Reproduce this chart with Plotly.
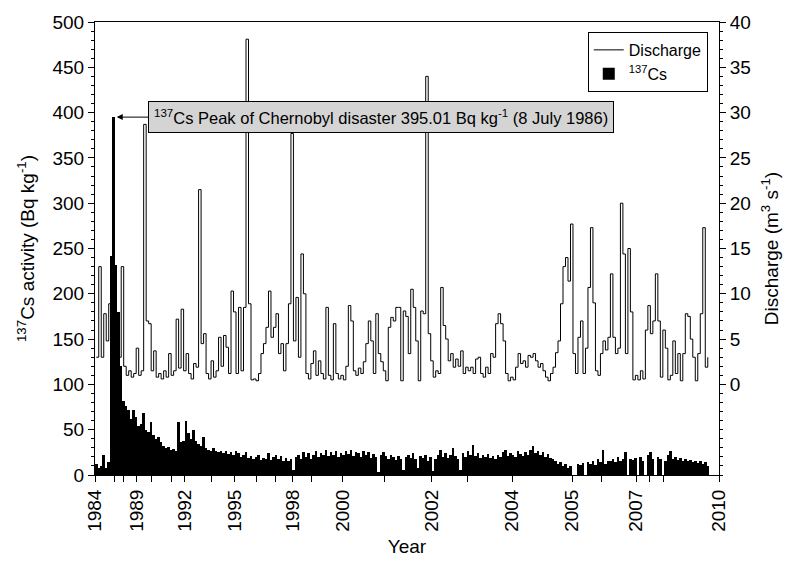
import plotly.graph_objects as go

# ---- data (one sample per time step) ----
cs_activity = [
    12, 8, 10, 22, 8, 14, 242, 395.01, 232, 180,
    120, 82, 76, 72, 62, 72, 64, 54, 56, 68,
    50, 48, 58, 44, 40, 42, 36, 32, 30, 31,
    28, 29, 27, 58, 36, 38, 60, 46, 40, 50,
    38, 34, 32, 42, 30, 28, 26, 30, 27, 25,
    26, 24, 27, 23, 25, 22, 26, 24, 20, 22,
    25, 19, 21, 18, 20, 22, 17, 19, 18, 24,
    17, 20, 22, 18, 21, 16, 19, 15, 18, 6,
    20, 22, 18, 25, 20, 24, 18, 22, 26, 20,
    24, 22, 28, 21, 25, 22, 27, 20, 24, 22,
    26, 23, 28, 21, 25, 24, 20, 26, 22, 25,
    19, 23, 20, 3, 22, 25, 21, 18, 22, 20,
    17, 21, 18, 5, 20, 22, 19, 24, 18, 8,
    21, 19, 22, 16, 20, 4, 18, 22, 28, 20,
    24, 19, 22, 30, 21, 18, 6, 24, 20, 26,
    22, 33, 21, 24, 19, 22, 20, 23, 19, 21,
    18, 22, 20, 25, 28, 21, 24, 22, 20, 26,
    23, 21, 25, 22, 28, 32, 24, 26, 22, 25,
    20, 23, 19, 18, 15, 12, 14, 10, 12, 8,
    10, 0, 0, 12, 11, 13, 0, 14, 12, 16,
    11, 18, 14, 28, 12, 16, 15, 18, 14, 20,
    16, 18, 25, 0, 18, 17, 19, 0, 20, 16,
    0, 22, 25, 18, 0, 20, 18, 0, 16, 22,
    26, 18, 20, 17, 19, 16, 18, 15, 17, 14,
    16, 13, 15, 12, 14, 10,
]

discharge = [
    3, 13, 3, 7.8, 4.8, 8.9, 10, 6, 4, 3,
    13, 2, 1, 1.5, 0.8, 1.2, 4, 1, 1.5, 28.7,
    7, 6.7, 1.5, 3.7, 0.8, 1.2, 0.6, 1.5, 0.8, 3.4,
    1, 1.5, 7.2, 1.8, 8.3, 1.5, 3.4, 1.2, 0.6, 2.3,
    1.9, 21.5, 4.5, 5.6, 1.2, 0.6, 2.6, 0.8, 1.5, 5.2,
    2, 5.4, 4.1, 1.2, 10.3, 8, 1.2, 8.5, 1.5, 8.5,
    38.1, 8.9, 0.5, 0.6, 0.4, 1.2, 3.4, 4.5, 6.3, 10.3,
    5.2, 6.3, 7.8, 3.4, 4.5, 1.5, 4.5, 8.9, 27.7, 4.8,
    9.6, 3, 14.4, 10, 1.2, 0.6, 2.3, 3.7, 1, 2.6,
    1.2, 0.6, 8.5, 1, 0.5, 6.7, 1.2, 0.6, 1, 0.5,
    2, 8.7, 7, 1.5, 1, 1.8, 1.2, 2.5, 4.5, 7,
    4.8, 1.2, 7.8, 3.4, 2.5, 1.5, 0.4, 6.3, 7.4, 7,
    8.5, 8.5, 0.4, 8.1, 7.5, 3.4, 10.5, 8.5, 4.8, 0.4,
    8.1, 7.8, 34, 5.6, 2.6, 0.8, 1.5, 1.2, 10.7, 6.5,
    5, 2.6, 3.4, 1.9, 2.8, 2, 3.7, 1.2, 1.9, 1.5,
    1.9, 1.2, 2.8, 3, 1.2, 0.8, 1.9, 1.2, 3.4, 3,
    6.7, 7.8, 6.7, 4.8, 1.2, 0.4, 0.8, 0.5, 1.9, 3.4,
    2.3, 2.6, 1.9, 3.2, 3, 3.4, 2.6, 1.9, 2.3, 1.5,
    0.8, 0.4, 1.2, 1.9, 3.5, 4.8, 8.9, 13, 14, 11.4,
    17.7, 3.4, 1.2, 5.2, 7, 1.2, 4, 10.7, 17.3, 9,
    1.5, 1, 3.4, 4.8, 3.8, 5.2, 12.2, 5.2, 3.4, 4,
    20, 14.4, 3.4, 15, 8, 0.5, 1, 0.5, 1.5, 0.6,
    6, 8.7, 5.6, 7, 12.2, 7, 0.8, 6, 4, 0.5,
    1, 4.8, 1.2, 3.4, 0.4, 3.4, 7.8, 7.5, 5, 3,
    0.4, 3.4, 7.8, 17.3, 1.9, 3,
]

sample_index = list(range(len(cs_activity)))

# x-axis labelled tick positions (sample index) and their labels
year_tick_pos = [-0.5, 16.3, 35.5, 55.5, 78.7, 98.7, 134.3, 166.7, 190.7,
                 216.3, 249.5]
year_tick_text = ["1984", "1989", "1992", "1995", "1998", "2000", "2002",
                  "2004", "2005", "2007", "2010"]
# unlabelled intermediate ticks on the x axis
extra_tick_pos = [7.5, 11.1, 22.3, 30.3, 46.3, 64.3, 71.9, 86.3, 115.5,
                  148.7, 202.3, 221.5, 227.1]

left_ticks = [0, 50, 100, 150, 200, 250, 300, 350, 400, 450, 500]
right_ticks = [0, 5, 10, 15, 20, 25, 30, 35, 40]

peak_value = 395.01
peak_index = 7

FONT = "Arial, Liberation Sans, sans-serif"

fig = go.Figure()
fig.add_trace(go.Bar(
    x=sample_index, y=cs_activity, name="<sup>137</sup>Cs",
    marker=dict(color="black", line=dict(width=0)),
    width=1.0,
))
fig.add_trace(go.Scatter(
    x=sample_index, y=discharge, name="Discharge", yaxis="y2",
    mode="lines", line=dict(color="black", width=1, shape="hv"),
))

fig.update_layout(
    width=790, height=565,
    margin=dict(l=95, r=70, t=20, b=90),
    paper_bgcolor="white", plot_bgcolor="white",
    font=dict(family=FONT, size=19, color="black"),
    bargap=0, showlegend=True,
    legend=dict(
        x=0.982, y=0.978, xanchor="right", yanchor="top",
        bgcolor="white", bordercolor="black", borderwidth=1,
        font=dict(size=16), traceorder="reversed",
        tracegroupgap=0, itemwidth=30,
    ),
    xaxis=dict(
        range=[-0.5, 249.5], tickmode="array",
        tickvals=year_tick_pos, ticktext=year_tick_text,
        tickangle=-90, ticks="outside", ticklen=6, tickcolor="black",
        minor=dict(tickmode="array", tickvals=extra_tick_pos,
                   ticks="outside", ticklen=6, tickcolor="black",
                   showgrid=False),
        showline=True, linecolor="black", linewidth=1, mirror=True,
        showgrid=False, zeroline=False,
        title=dict(text="Year", standoff=8, font=dict(size=19)),
    ),
    yaxis=dict(
        range=[0, 500], tickmode="array", tickvals=left_ticks,
        ticks="outside", ticklen=6, tickcolor="black",
        minor=dict(tickmode="linear", tick0=0, dtick=10, ticks="outside",
                   ticklen=3, tickcolor="black", showgrid=False),
        showline=True, linecolor="black", linewidth=1,
        showgrid=False, zeroline=False,
        title=dict(text="<sup>137</sup>Cs activity (Bq kg<sup>-1</sup>)",
                   standoff=12, font=dict(size=19)),
    ),
    yaxis2=dict(
        range=[-10, 40], overlaying="y", side="right",
        tickmode="array", tickvals=right_ticks,
        ticks="outside", ticklen=6, tickcolor="black",
        minor=dict(tickmode="linear", tick0=0, dtick=1, ticks="outside",
                   ticklen=3, tickcolor="black", showgrid=False),
        showline=True, linecolor="black", linewidth=1,
        showgrid=False, zeroline=False,
        title=dict(text="Discharge (m<sup>3</sup> s<sup>-1</sup>)",
                   standoff=14, font=dict(size=19)),
    ),
)

fig.add_annotation(
    x=peak_index, y=peak_value, xref="x", yref="y",
    ax=113.9, ay=peak_value, axref="x", ayref="y",
    text="<sup>137</sup>Cs Peak of Chernobyl disaster 395.01 Bq kg<sup>-1</sup> (8 July 1986)",
    showarrow=True, arrowhead=2, arrowsize=1.2, arrowwidth=1,
    arrowcolor="black", standoff=3,
    bgcolor="#d4d4d4", bordercolor="black", borderwidth=1, borderpad=5,
    font=dict(family=FONT, size=16.5, color="black"),
)

fig.write_html("out.html")
